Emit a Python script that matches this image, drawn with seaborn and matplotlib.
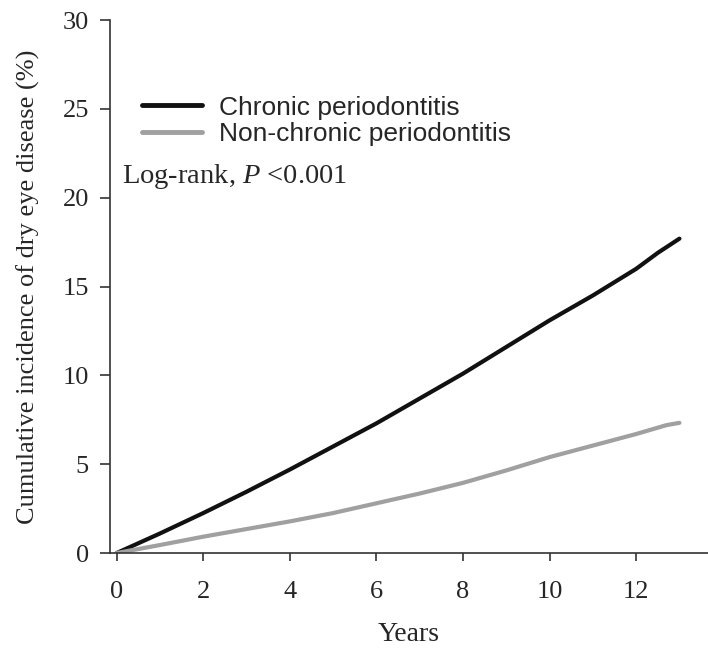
import matplotlib
matplotlib.use("Agg")
import matplotlib.pyplot as plt
import seaborn as sns
import pandas as pd

# values
years = [0, 1, 2, 3, 4, 5, 6, 7, 8, 9, 10, 11, 12, 12.5, 13]
chronic = [0, 1.1, 2.25, 3.45, 4.7, 6.0, 7.3, 8.7, 10.1, 11.6, 13.1, 14.5, 16.0, 16.9, 17.7]
years_nc = [0, 1, 2, 3, 4, 5, 6, 7, 8, 9, 10, 11, 12, 12.7, 13]
non_chronic = [0, 0.45, 0.92, 1.35, 1.78, 2.25, 2.8, 3.35, 3.95, 4.65, 5.4, 6.05, 6.7, 7.2, 7.33]
groups = ["Chronic periodontitis", "Non-chronic periodontitis"]

df = pd.concat([
    pd.DataFrame({"Years": years, "Incidence": chronic, "Group": groups[0]}),
    pd.DataFrame({"Years": years_nc, "Incidence": non_chronic, "Group": groups[1]}),
])

sns.set_style("ticks")
plt.rcParams["mathtext.fontset"] = "custom"
plt.rcParams["mathtext.rm"] = "Liberation Serif"
plt.rcParams["mathtext.it"] = "Liberation Serif:italic"
serif = ["Liberation Serif", "DejaVu Serif"]

fig = plt.figure(figsize=(7.08, 6.51), dpi=100)
ax = fig.add_axes([0.155, 0.1505, 0.845, 0.8185])

sns.lineplot(data=df, x="Years", y="Incidence", hue="Group", hue_order=groups,
             palette=["#111111", "#a0a0a0"], linewidth=3, ax=ax,
             estimator=None, sort=True)

ax.set_xlim(-0.16, 13.66)
ax.set_ylim(0, 30)
ax.set_xticks([0, 2, 4, 6, 8, 10, 12])
ax.set_yticks([0, 5, 10, 15, 20, 25, 30])
sns.despine(ax=ax)
for s in ["left", "bottom"]:
    ax.spines[s].set_linewidth(1.2)
    ax.spines[s].set_color("#333333")

ax.tick_params(axis="x", direction="out", length=6, width=1.2, pad=14, color="#333333")
ax.tick_params(axis="y", direction="out", length=7, width=1.2, pad=8, color="#333333")
for lab in ax.get_xticklabels() + ax.get_yticklabels():
    lab.set_fontfamily(serif)
    lab.set_fontsize(19)

ax.set_xlabel("Years", fontsize=20, family=serif, labelpad=14)
ax.set_ylabel("Cumulative incidence of dry eye disease (%)", fontsize=19,
              family=serif, labelpad=16)

leg = ax.legend(loc="upper left", bbox_to_anchor=(0.0135, 0.903), frameon=False,
                handlelength=2.28, handletextpad=0.65, labelspacing=0.1,
                prop={"family": ["Liberation Sans", "DejaVu Sans"], "size": 19})
for h in leg.get_lines():
    h.set_linewidth(3.5)

ax.text(0.02, 0.7075, "Log-rank, $\\mathit{P}$ <0.001", transform=ax.transAxes,
        fontsize=20.5, family=serif, va="center")

fig.savefig("out.png", dpi=100)
